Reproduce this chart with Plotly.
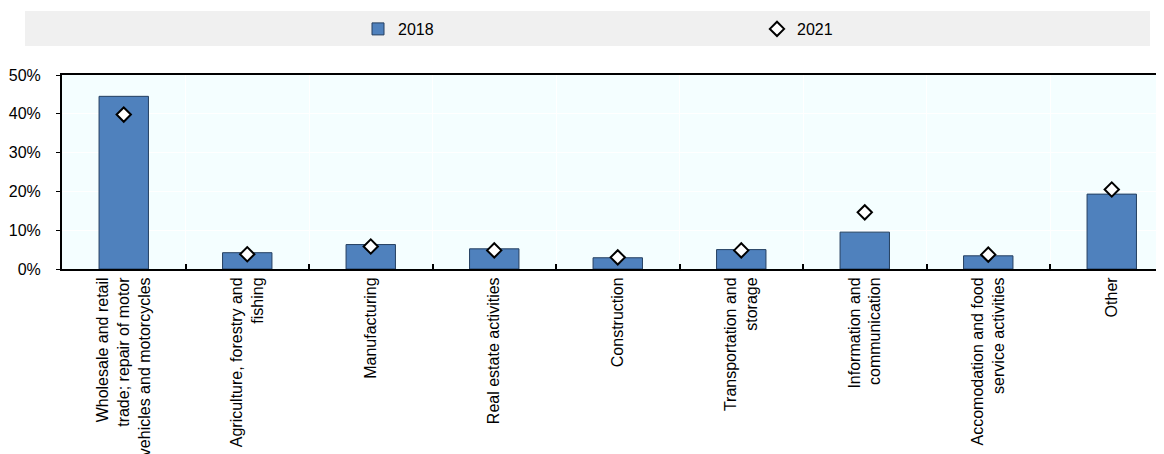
import plotly.graph_objects as go

categories = [
    "Wholesale and retail<br>trade; repair of motor<br>vehicles and motorcycles",
    "Agriculture, forestry and<br>fishing",
    "Manufacturing",
    "Real estate activities",
    "Construction",
    "Transportation and<br>storage",
    "Information and<br>communication",
    "Accomodation and food<br>service activities",
    "Other",
]
values_2018 = [44.5, 4.2, 6.3, 5.2, 2.9, 5.0, 9.5, 3.4, 19.3]
values_2021 = [39.8, 3.8, 5.8, 4.8, 3.0, 4.8, 14.6, 3.7, 20.5]
y_ticks = [0, 10, 20, 30, 40, 50]
y_tick_labels = ["0%", "10%", "20%", "30%", "40%", "50%"]

FONT = "Liberation Sans, Arial, sans-serif"

# page body adds an 8px offset; figure is sized to fill the rest of the window
W, H = 1156, 446
ML, MT, MB = 54, 67, 185
PW = W - ML
PH = H - MT - MB

fig = go.Figure()
fig.add_trace(go.Bar(
    x=categories, y=values_2018, name="2018", width=0.4,
    marker=dict(color="#4F81BD", line=dict(color="#243F60", width=1)),
))
fig.add_trace(go.Scatter(
    x=categories, y=values_2021, name="2021", mode="markers",
    marker=dict(symbol="diamond", size=11, color="white",
                line=dict(color="black", width=2)),
))

# grey legend band
fig.add_shape(type="rect", xref="paper", yref="paper",
              x0=(17 - ML) / PW, x1=(1142 - ML) / PW,
              y0=1 + (MT - 38) / PH, y1=1 + (MT - 3) / PH,
              fillcolor="#F0F0F0", line=dict(width=0), layer="below")

fig.update_layout(
    width=W, height=H,
    margin=dict(l=ML, r=0, t=MT, b=MB, pad=0),
    paper_bgcolor="white",
    plot_bgcolor="#F4FEFF",
    font=dict(family=FONT, size=16, color="black"),
    showlegend=True,
    legend=dict(
        orientation="h", xref="container", yref="container",
        x=350 / W, xanchor="left", y=1 - 21 / H, yanchor="middle",
        bgcolor="rgba(0,0,0,0)", entrywidth=354, entrywidthmode="pixels",
        font=dict(family=FONT, size=16), itemwidth=30,
        traceorder="normal",
    ),
    xaxis=dict(
        type="category", range=[-0.5, 8.423],
        tickangle=-90, tickson="boundaries",
        ticks="inside", ticklen=5, tickwidth=2, tickcolor="black",
        showline=True, linecolor="black", linewidth=2, mirror=True,
        showgrid=True, gridcolor="white", gridwidth=1,
        tickfont=dict(family=FONT, size=16),
        automargin=False,
    ),
    yaxis=dict(
        range=[0, 50], tickvals=y_ticks, ticktext=y_tick_labels,
        ticks="outside", ticklen=4, tickwidth=1, tickcolor="black",
        ticklabelstandoff=12,
        showline=True, linecolor="black", linewidth=2,
        showgrid=True, gridcolor="white", gridwidth=1,
        zeroline=False, tickfont=dict(family=FONT, size=16),
        automargin=False,
    ),
)

fig.write_html("out.html")
